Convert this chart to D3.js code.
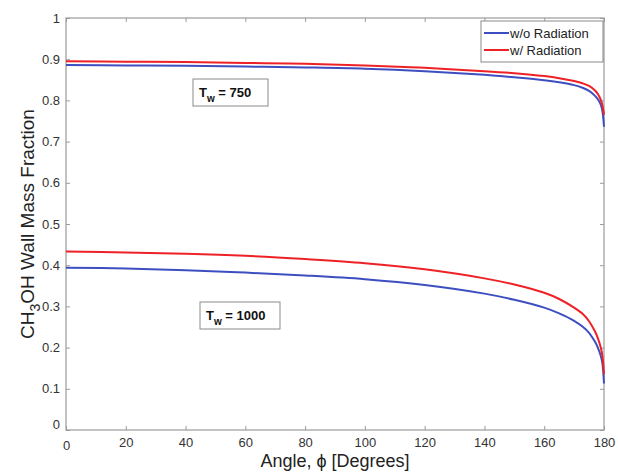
<!DOCTYPE html>
<html><head><meta charset="utf-8">
<script src="https://cdn.jsdelivr.net/npm/d3@7"></script>
<style>
body{margin:0;background:#fff;}
text{font-family:"Liberation Sans",Arial,sans-serif;}
</style></head>
<body><svg id="c" width="618" height="474"></svg>
<script>
const angles = [0,20,40,60,80,100,120,140,150,160,165,170,173,175,177,178,179,179.5,180];
const woRad750 = [0.886,0.885,0.884,0.882,0.880,0.877,0.871,0.862,0.856,0.849,0.844,0.837,0.830,0.823,0.811,0.802,0.788,0.773,0.736];
const wRad750  = [0.895,0.894,0.893,0.891,0.889,0.885,0.879,0.871,0.866,0.859,0.854,0.847,0.841,0.835,0.824,0.815,0.800,0.787,0.765];
const woRad1000 = [0.394,0.392,0.388,0.382,0.375,0.366,0.352,0.331,0.316,0.297,0.283,0.265,0.250,0.236,0.214,0.199,0.178,0.160,0.113];
const wRad1000  = [0.433,0.431,0.428,0.423,0.415,0.405,0.390,0.368,0.353,0.333,0.318,0.297,0.281,0.264,0.239,0.222,0.198,0.178,0.135];
const xTicks = [0,20,40,60,80,100,120,140,160,180];
const yTicks = [0,0.1,0.2,0.3,0.4,0.5,0.6,0.7,0.8,0.9,1];
const legendLabels = ["w/o Radiation","w/ Radiation"];
const colors = ["#3d4fc0","#ee2127"];

const svg = d3.select("#c");
const L=66,R=604,T=18,B=430;
const x = d3.scaleLinear().domain([0,180]).range([L,R]);
const y = d3.scaleLinear().domain([0,1]).range([B,T]);
const frame="#9a9a9a", txt="#333";

svg.append("rect").attr("x",L).attr("y",T).attr("width",R-L).attr("height",B-T)
  .attr("fill","none").attr("stroke",frame).attr("stroke-width",1.2);

const fmtY = d=> d===0?"0":(d===1?"1":d3.format(".1f")(d));
const xa = svg.append("g").attr("transform",`translate(0,${B})`)
  .call(d3.axisBottom(x).tickValues(xTicks).tickSize(-4).tickPadding(8).tickFormat(d3.format("d")));
const ya = svg.append("g").attr("transform",`translate(${L},0)`)
  .call(d3.axisLeft(y).tickValues(yTicks).tickSize(-4).tickPadding(6).tickFormat(fmtY));
const xt = svg.append("g").attr("transform",`translate(0,${T})`)
  .call(d3.axisTop(x).tickValues(xTicks).tickSize(-4).tickFormat(""));
const yr = svg.append("g").attr("transform",`translate(${R},0)`)
  .call(d3.axisRight(y).tickValues(yTicks).tickSize(-4).tickFormat(""));
[xa,ya,xt,yr].forEach(g=>{
  g.select(".domain").remove();
  g.selectAll(".tick line").attr("stroke",frame);
  g.selectAll("text").attr("fill",txt).style("font-size","13px").style("font-family","Liberation Sans, Arial, sans-serif");
});
ya.selectAll(".tick").filter(d=>d===0).select("text").attr("dy","-0.1em");
xa.selectAll(".tick").filter(d=>d===0).select("text").attr("dy","0.9em");

const line = d3.line().x(d=>x(d[0])).y(d=>y(d[1])).curve(d3.curveCatmullRom.alpha(0.5));
const series = [[woRad750,0],[wRad750,1],[woRad1000,0],[wRad1000,1]];
series.forEach(([vals,ci])=>{
  svg.append("path").datum(angles.map((a,i)=>[a,vals[i]]))
    .attr("d",line).attr("fill","none").attr("stroke",colors[ci]).attr("stroke-width",2);
});

function annot(ax, ay, w, num){
  const g = svg.append("g");
  g.append("rect").attr("x",x(ax)).attr("y",y(ay)).attr("width",w).attr("height",27)
    .attr("fill","#fff").attr("stroke","#8a8a8a").attr("stroke-width",1);
  const t = g.append("text").attr("x",x(ax)+6).attr("y",y(ay)+18)
    .attr("fill","#111").style("font-size","13px").style("font-weight","bold");
  t.append("tspan").text("T");
  t.append("tspan").attr("dy",5).style("font-size","10px").text("w");
  t.append("tspan").attr("dy",-5).text(" = "+num);
}
annot(x.invert(193), y.invert(79), 75, "750");
annot(x.invert(200), y.invert(302), 80, "1000");

const lg = svg.append("g");
lg.append("rect").attr("x",481).attr("y",21).attr("width",122).attr("height",41)
  .attr("fill","#fff").attr("stroke","#8a8a8a").attr("stroke-width",1);
legendLabels.forEach((l,i)=>{
  const yy = 33 + i*17;
  lg.append("line").attr("x1",484).attr("x2",509).attr("y1",yy).attr("y2",yy)
    .attr("stroke",colors[i]).attr("stroke-width",2);
  lg.append("text").attr("x",510).attr("y",yy+4.5).attr("fill","#222")
    .style("font-size","13px").text(l);
});

svg.append("text").attr("x",(L+R)/2).attr("y",467).attr("text-anchor","middle")
  .attr("fill","#222").style("font-size","18px").text("Angle, \u03D5 [Degrees]");
const yl = svg.append("text").attr("transform",`translate(34,${(T+B)/2}) rotate(-90)`)
  .attr("text-anchor","middle").attr("fill","#222").style("font-size","19px");
yl.append("tspan").text("CH");
yl.append("tspan").attr("dy",6).style("font-size","14px").text("3");
yl.append("tspan").attr("dy",-6).text("OH Wall Mass Fraction");
</script></body></html>
